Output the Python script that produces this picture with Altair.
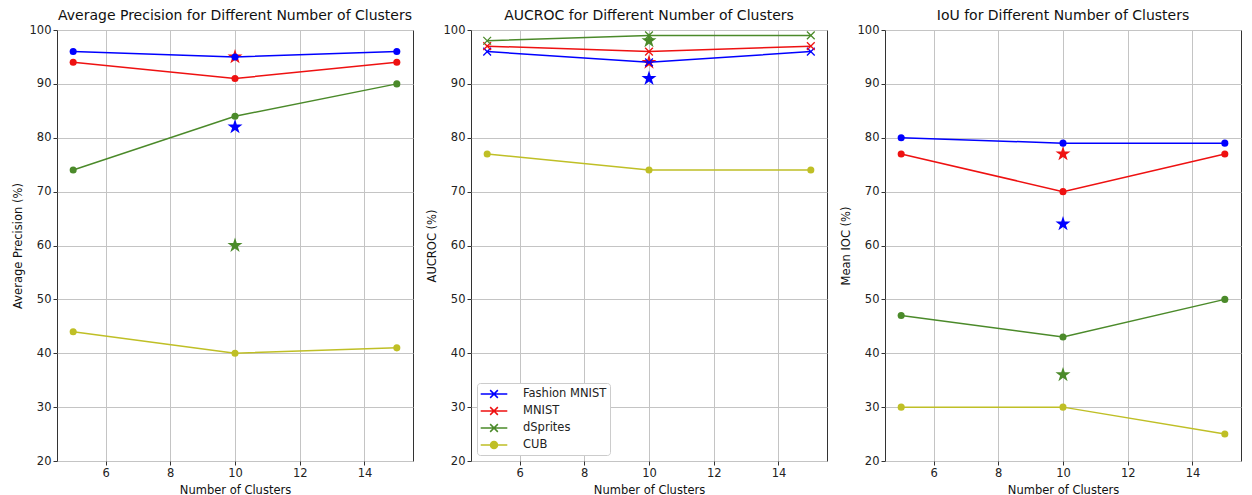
import altair as alt
import pandas as pd

# ---------------- data ----------------
clusters = [5, 10, 15]
series_names = ["Fashion MNIST", "MNIST", "dSprites", "CUB"]
series_colors = ["#0000ff", "#ee1111", "#4b8a2a", "#bfbf26"]

# Average Precision
ap_fashion = [96, 95, 96]
ap_mnist = [94, 91, 94]
ap_dsprites = [74, 84, 90]
ap_cub = [44, 40, 41]
ap_star_x = [10, 10, 10]
ap_star_series = ["Fashion MNIST", "MNIST", "dSprites"]
ap_star_vals = [82, 95, 60]

# AUCROC
auc_fashion = [96, 94, 96]
auc_mnist = [97, 96, 97]
auc_dsprites = [98, 99, 99]
auc_cub = [77, 74, 74]
auc_star_x = [10, 10, 10]
auc_star_series = ["Fashion MNIST", "MNIST", "dSprites"]
auc_star_vals = [91, 94, 98]

# IoU
iou_fashion = [80, 79, 79]
iou_mnist = [77, 70, 77]
iou_dsprites = [47, 43, 50]
iou_cub = [30, 30, 25]
iou_star_x = [10, 10, 10]
iou_star_series = ["Fashion MNIST", "MNIST", "dSprites"]
iou_star_vals = [64, 77, 36]

x_ticks = [6, 8, 10, 12, 14]
y_ticks = [20, 30, 40, 50, 60, 70, 80, 90, 100]

X_PATH = "M-1,-1L1,1M-1,1L1,-1"
STAR_PATH = ("M0,-1L0.2245,-0.309L0.9511,-0.309L0.3633,0.118L0.5878,0.809"
             "L0,0.382L-0.5878,0.809L-0.3633,0.118L-0.9511,-0.309"
             "L-0.2245,-0.309Z")
LEG_X = "M-1.9,0L1.9,0M-0.55,-0.55L0.55,0.55M-0.55,0.55L0.55,-0.55"
LEG_O = ("M-1.9,0L1.9,0"
         "M0.5,0A0.5,0.5,0,1,1,-0.5,0A0.5,0.5,0,1,1,0.5,0"
         "M0.3,0A0.3,0.3,0,1,1,-0.3,0A0.3,0.3,0,1,1,0.3,0"
         "M0.1,0A0.1,0.1,0,1,1,-0.1,0A0.1,0.1,0,1,1,0.1,0")

FONT = "DejaVu Sans"


def long_df(a, b, c, d):
    rows = []
    for name, vals in zip(series_names, [a, b, c, d]):
        for xv, yv in zip(clusters, vals):
            rows.append({"clusters": xv, "value": yv, "series": name})
    return pd.DataFrame(rows)


def star_df(xs, names, vals):
    return pd.DataFrame({"clusters": xs, "value": vals, "series": names})


color_scale = alt.Scale(domain=series_names, range=series_colors)


def panel(lines_df, stars_df, title, ytitle, cross_series, with_legend):
    x_enc = alt.X("clusters:Q", title="Number of Clusters",
                  scale=alt.Scale(domain=[4.5, 15.5], nice=False, zero=False),
                  axis=alt.Axis(values=x_ticks))
    y_enc = alt.Y("value:Q", title=ytitle,
                  scale=alt.Scale(domain=[20, 100], nice=False, zero=False),
                  axis=alt.Axis(values=y_ticks))
    col = alt.Color("series:N", scale=color_scale, legend=None)

    layers = []
    if with_legend:
        shape_range = [LEG_X if s in cross_series else LEG_O for s in series_names]
        leg = alt.Legend(
            title=None, orient="bottom-left", offset=6,
            fillColor="white", strokeColor="#cccccc", cornerRadius=3,
            padding=3, labelFontSize=11.5, labelFont=FONT,
            labelColor="#222222", symbolSize=196, symbolStrokeWidth=1.5,
            symbolOpacity=1, symbolOffset=6, labelOffset=21, rowPadding=2,
        )
        legend_layer = alt.Chart(lines_df).mark_point(
            filled=False, opacity=0, size=10
        ).encode(
            x=x_enc, y=y_enc,
            color=alt.Color("series:N", scale=color_scale, legend=leg),
            shape=alt.Shape("series:N", scale=alt.Scale(domain=series_names,
                                                        range=shape_range),
                            legend=leg),
        )
        layers.append(legend_layer)

    stars = alt.Chart(stars_df).mark_point(
        shape=STAR_PATH, filled=True, size=250, opacity=1
    ).encode(x=x_enc, y=y_enc, color=col)

    lines = alt.Chart(lines_df).mark_line(strokeWidth=1.5).encode(
        x=x_enc, y=y_enc, color=col, detail="series:N"
    )

    circ_names = [s for s in series_names if s not in cross_series]
    circles = alt.Chart(lines_df).transform_filter(
        alt.FieldOneOfPredicate(field="series", oneOf=circ_names)
    ).mark_point(shape="circle", filled=True, size=50, opacity=1).encode(
        x=x_enc, y=y_enc, color=col
    )
    layers += [stars, lines, circles]
    if cross_series:
        crosses = alt.Chart(lines_df).transform_filter(
            alt.FieldOneOfPredicate(field="series", oneOf=cross_series)
        ).mark_point(shape=X_PATH, filled=False, size=60, strokeWidth=1.3,
                     opacity=1).encode(x=x_enc, y=y_enc, color=col)
        layers.append(crosses)

    return alt.layer(*layers).properties(
        width=356, height=431,
        title=alt.TitleParams(title, fontSize=14, font=FONT,
                              fontWeight="normal", color="#111111", offset=1),
    )


p1 = panel(long_df(ap_fashion, ap_mnist, ap_dsprites, ap_cub),
           star_df(ap_star_x, ap_star_series, ap_star_vals),
           "Average Precision for Different Number of Clusters",
           "Average Precision (%)", [], False)
p2 = panel(long_df(auc_fashion, auc_mnist, auc_dsprites, auc_cub),
           star_df(auc_star_x, auc_star_series, auc_star_vals),
           "AUCROC for Different Number of Clusters",
           "AUCROC (%)", ["Fashion MNIST", "MNIST", "dSprites"], True)
p3 = panel(long_df(iou_fashion, iou_mnist, iou_dsprites, iou_cub),
           star_df(iou_star_x, iou_star_series, iou_star_vals),
           "IoU for Different Number of Clusters",
           "Mean IOC (%)", [], False)

chart = alt.hconcat(p1, p2, p3, spacing=58, bounds="flush").resolve_scale(
    color="independent", shape="independent"
).resolve_legend(
    color="independent", shape="independent"
).properties(
    padding={"left": 3, "top": 0, "right": 0, "bottom": 0}
).configure_view(
    stroke="#333333", strokeWidth=1
).configure_axis(
    domain=False, grid=True, gridColor="#c4c4c4", gridWidth=1,
    ticks=True, tickColor="#333333", tickSize=4,
    labelFont=FONT, labelFontSize=11.5, labelColor="#222222",
    titleFont=FONT, titleFontSize=11.5, titleFontWeight="normal",
    titleColor="#111111", labelPadding=2,
).configure_axisX(titlePadding=6).configure_axisY(titlePadding=6)

chart.save("out.html", embed_options={"renderer": "svg", "actions": False})
